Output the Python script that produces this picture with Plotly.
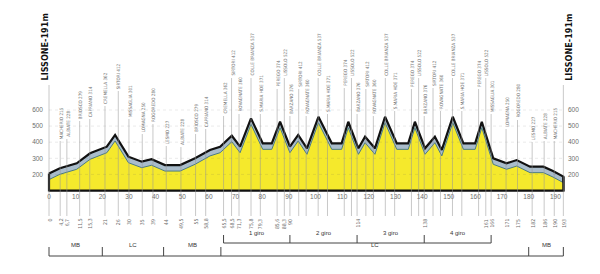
import plotly.graph_objects as go

# ---------------- data ----------------
profile_km = [0, 4.1, 10.4, 15.4, 21.7, 24.8, 29.8, 34.8, 38.5, 43.5, 49.2, 54.8, 60.4, 64.2,
              68.6, 71.7, 75.8, 80.2, 83.6, 86.7, 90.4,
              93.5, 96.8, 101.1, 106.1, 109.8, 112.3, 116.1,
              118.6, 122.3, 126.1, 130.5, 134.8, 137.3, 141.1,
              144.8, 147.4, 151.5, 155.5, 159.9, 162.4,
              166.7, 171.7, 175.5, 180.5, 185.5, 189.1, 193]
profile_elev = [205, 238, 269, 331, 372, 445, 310, 279, 294, 258, 258, 300, 352, 372,
                440, 372, 548, 393, 393, 527, 372,
                445, 362, 558, 393, 393, 527, 362,
                434, 362, 558, 393, 393, 527, 362,
                434, 352, 558, 393, 393, 527,
                300, 269, 289, 248, 248, 221, 186]

head_names = ["MACHERIO 215", "ALBIATE 228", "BRIOSCO 279", "CAPRIANO 314", "CREMELLA 362",
              "SIRTORI 412", "MISSAGLIA 301", "LOMAGNA 250", "ROGOREDO 280", "LESMO 227",
              "ALBIATE 228", "BRIOSCO 279", "CAPRIANO 314", "CREMELLA 362"]
circuit_names = ["SIRTORI 412", "ROVAGNATE 360", "COLLE BRIANZA 537", "S.MARIA HOE 371",
                 "PEREGO 374", "LISSOLO 522", "BARZANO 376"]
tail_names = ["MISSAGLIA 301", "LOMAGNA 250", "ROGOREDO 280", "LESMO 227", "ALBIATE 228",
              "MACHERIO 215"]
wp_names = head_names + circuit_names * 3 + circuit_names[:-1] + tail_names

wp_km = [4.2, 6.7, 11.5, 15.3, 21, 26, 30, 35, 39, 44, 49.5, 55, 58.8, 65.5,
         68.5, 71.3, 75.8, 79.3, 85.6, 88.3, 90.4,
         93.7, 96.5, 101.0, 104.5, 110.8, 113.5, 115.6,
         118.9, 121.7, 126.2, 129.7, 136.0, 138.7, 140.8,
         144.1, 146.9, 151.4, 154.9, 161.2, 163.9,
         165.9, 171.5, 175.8, 181.3, 185.8, 189.6]
wp_km_text = ["4,2", "6,7", "11,5", "15,3", "21", "26", "30", "35", "39", "44", "49,5", "55", "58,8", "65,5",
              "68,5", "71,3", "75,8", "79,3", "85,6", "88,3", "90",
              "", "", "", "", "", "", "114",
              "", "", "", "", "", "", "138",
              "", "", "", "", "", "161",
              "166", "171", "175", "182", "186", "190"]

start_km, finish_km = 0, 193
start_text, finish_text = "0", "193"
start_title = "LISSONE-191m"
finish_title = "LISSONE-191m"

elev_ticks = [200, 300, 400, 500, 600]
dist_ticks = list(range(0, 200, 10))

lap_bounds = [65.5, 90.4, 115.6, 140.8, 165.9]
lap_names = ["1 giro", "2 giro", "3 giro", "4 giro"]
prov_bounds = [0, 20, 43, 64.5, 180, 193]
prov_names = ["MB", "LC", "MB", "LC", "MB"]

# ---------------- layout constants (pixels / styles) ----------------
W, H = 600, 274
X0_PX, PX_PER_KM = 49, 2.665
BASE_PX, PX_PER_M, BASE_M = 190.5, 0.161, 100
BAND_M = 6 / PX_PER_M           # 3D band thickness
x_range = [-X0_PX / PX_PER_KM, (W - X0_PX) / PX_PER_KM]
y_range = [BASE_M - (H - BASE_PX) / PX_PER_M, BASE_M + BASE_PX / PX_PER_M]


def py(p):
    return 1 - p / H


label_bottom_px = [140, 138, 120, 118, 105, 90, 118, 133, 123, 145, 146, 133, 128, 115,
                   77, 113, 77, 113, 88, 77, 115,
                   88, 115, 77, 113, 87, 77, 113,
                   88, 115, 77, 110, 88, 77, 115,
                   87, 110, 77, 110, 88, 77,
                   113, 128, 119, 141, 140, 140]
LINE_BOTTOM_PX = 216
KM_LABEL_TOP_PX = 218
TITLE_BOTTOM_PX = 82

YELLOW = "#f5e92c"
BAND = "#a9bccb"
TEAL = "#4c7c82"
GREY_TXT = "#6e6e6e"
SMALL_FONT = "Liberation Sans Narrow, DejaVu Sans Condensed, Liberation Sans, Arial"

fig = go.Figure()

# 3D band (top face) with black outline
fig.add_trace(go.Scatter(
    x=profile_km + [profile_km[-1], profile_km[0]],
    y=profile_elev + [BASE_M, BASE_M],
    fill="toself", fillcolor=BAND, mode="lines",
    line=dict(color="#111111", width=2.2), hoverinfo="skip", showlegend=False))

# yellow front face
yel = [e - BAND_M for e in profile_elev]
fig.add_trace(go.Scatter(
    x=profile_km + [profile_km[-1], profile_km[0]],
    y=yel + [BASE_M, BASE_M],
    fill="toself", fillcolor=YELLOW, mode="lines",
    line=dict(width=0, color=YELLOW), hoverinfo="skip", showlegend=False))
fig.add_trace(go.Scatter(x=profile_km, y=yel, mode="lines",
                         line=dict(color=TEAL, width=1), hoverinfo="skip", showlegend=False))
# edges + baseline
fig.add_trace(go.Scatter(
    x=[profile_km[0], profile_km[0], profile_km[-1], profile_km[-1]],
    y=[profile_elev[0], BASE_M, BASE_M, profile_elev[-1]],
    mode="lines", line=dict(color="#111111", width=2.2), hoverinfo="skip", showlegend=False))

# invisible trace for right axis
fig.add_trace(go.Scatter(x=[0], y=[BASE_M], yaxis="y2", mode="markers",
                         marker=dict(opacity=0), hoverinfo="skip", showlegend=False))

shapes = []
annotations = []

# faint horizontal grid
for t in elev_ticks:
    shapes.append(dict(type="line", xref="x", yref="y", x0=start_km, x1=finish_km, y0=t, y1=t,
                       line=dict(color="rgba(90,90,90,0.22)", width=0.6, dash="dot"), layer="above"))

# waypoint lines and labels
for name, km, ktxt, bpx in zip(wp_names, wp_km, wp_km_text, label_bottom_px):
    shapes.append(dict(type="line", xref="x", yref="paper", x0=km, x1=km,
                       y0=py(bpx + 1), y1=py(LINE_BOTTOM_PX),
                       line=dict(color="rgba(150,150,150,0.75)", width=0.7), layer="above"))
    annotations.append(dict(x=km, y=py(bpx), xref="x", yref="paper", text=name, textangle=-90,
                            showarrow=False, xanchor="center", yanchor="bottom", xshift=1,
                            borderpad=0,
                            font=dict(size=4.6, color=GREY_TXT, family=SMALL_FONT)))
    if ktxt:
        annotations.append(dict(x=km, y=py(KM_LABEL_TOP_PX), xref="x", yref="paper", text=ktxt,
                                textangle=-90, showarrow=False, xanchor="center", yanchor="top",
                                borderpad=0,
                                font=dict(size=5.2, color=GREY_TXT, family=SMALL_FONT)))

# start / finish
for km, txt, title, xs in [(start_km, start_text, start_title, -4), (finish_km, finish_text, finish_title, 6)]:
    shapes.append(dict(type="line", xref="x", yref="paper", x0=km, x1=km,
                       y0=py(TITLE_BOTTOM_PX + 3), y1=py(LINE_BOTTOM_PX),
                       line=dict(color="rgba(150,150,150,0.75)", width=0.7), layer="above"))
    annotations.append(dict(x=km, y=py(TITLE_BOTTOM_PX), xref="x", yref="paper", text="<b>%s</b>" % title,
                            textangle=-90, showarrow=False, xanchor="center", yanchor="bottom",
                            xshift=xs, borderpad=0,
                            font=dict(size=9, color="#111111",
                                      family="Liberation Sans Narrow, DejaVu Sans Condensed, Liberation Sans")))
    annotations.append(dict(x=km, y=py(KM_LABEL_TOP_PX), xref="x", yref="paper", text=txt,
                            textangle=-90, showarrow=False, xanchor="center", yanchor="top",
                            borderpad=0,
                            font=dict(size=5.2, color=GREY_TXT, family=SMALL_FONT)))

# lap brackets
LAP_LINE, LAP_TICK, LAP_TXT = 243, 235, 238
shapes.append(dict(type="line", xref="x", yref="paper", x0=lap_bounds[0], x1=lap_bounds[-1],
                   y0=py(LAP_LINE), y1=py(LAP_LINE), line=dict(color="#444444", width=1)))
for b in lap_bounds:
    shapes.append(dict(type="line", xref="x", yref="paper", x0=b, x1=b,
                       y0=py(LAP_TICK), y1=py(LAP_LINE), line=dict(color="#444444", width=1)))
for a, b, n in zip(lap_bounds[:-1], lap_bounds[1:], lap_names):
    annotations.append(dict(x=(a + b) / 2, y=py(LAP_TXT), xref="x", yref="paper", text=n,
                            showarrow=False, font=dict(size=6, color="#333333", family="Liberation Sans, Arial")))

# province brackets
PR_LINE, PR_TICK, PR_TXT = 256, 247, 250
shapes.append(dict(type="line", xref="x", yref="paper", x0=prov_bounds[0], x1=prov_bounds[-1],
                   y0=py(PR_LINE), y1=py(PR_LINE), line=dict(color="#444444", width=1)))
for b in prov_bounds:
    shapes.append(dict(type="line", xref="x", yref="paper", x0=b, x1=b,
                       y0=py(PR_TICK), y1=py(PR_LINE), line=dict(color="#444444", width=1)))
for a, b, n in zip(prov_bounds[:-1], prov_bounds[1:], prov_names):
    annotations.append(dict(x=(a + b) / 2, y=py(PR_TXT), xref="x", yref="paper", text=n,
                            showarrow=False, font=dict(size=6, color="#333333", family="Liberation Sans, Arial")))

tickfont = dict(size=6.5, color=GREY_TXT, family="Liberation Sans, Arial")
fig.update_layout(
    width=W, height=H, margin=dict(l=0, r=0, t=0, b=0),
    paper_bgcolor="white", plot_bgcolor="white", showlegend=False,
    xaxis=dict(range=x_range, anchor="free", position=py(BASE_PX + 1), tickvals=dist_ticks,
               ticks="", showgrid=False, zeroline=False, showline=False, tickfont=tickfont,
               fixedrange=True),
    yaxis=dict(range=y_range, anchor="free", position=43 / W, side="left", tickvals=elev_ticks,
               ticks="", showgrid=False, zeroline=False, showline=False, tickfont=tickfont,
               fixedrange=True),
    yaxis2=dict(range=y_range, overlaying="y", anchor="free", position=567 / W, side="right",
                tickvals=elev_ticks, ticks="", showgrid=False, zeroline=False, showline=False,
                tickfont=tickfont, fixedrange=True),
    shapes=shapes, annotations=annotations,
)

fig.write_html("out.html")
